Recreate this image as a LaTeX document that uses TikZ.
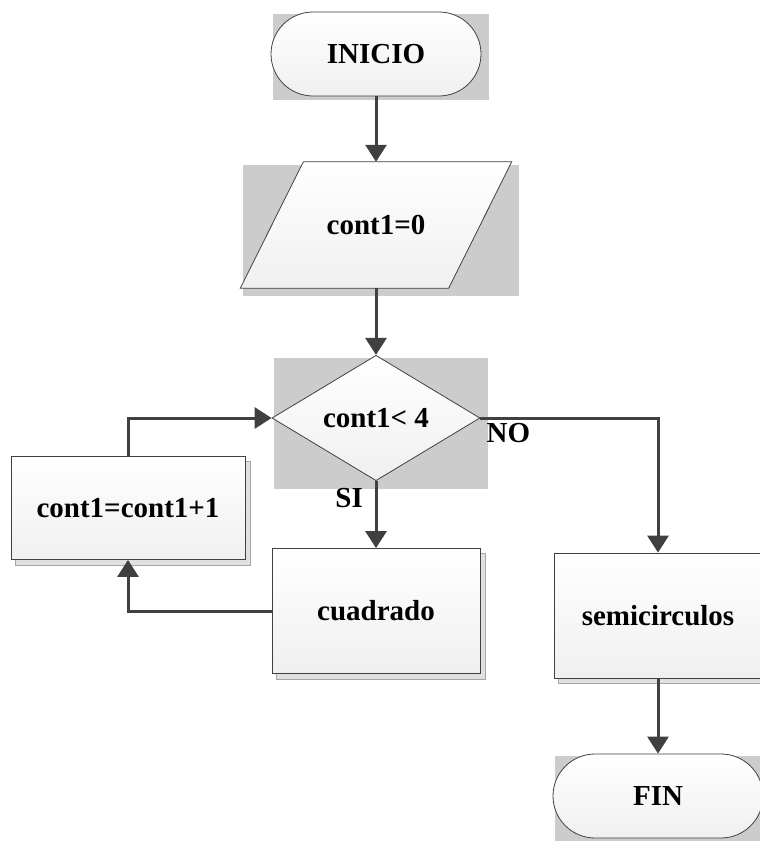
\documentclass[tikz,border=0pt]{standalone}
\usepackage{fontspec}
\setmainfont{Liberation Serif}
\usetikzlibrary{positioning,shapes.geometric,arrows.meta,backgrounds,calc}

\definecolor{edge}{HTML}{404040}
\definecolor{backdrop}{HTML}{CCCCCC}

\begin{document}
\begin{tikzpicture}[x=1pt,y=-1pt,
  every node/.style={font=\fontsize{29}{34}\selectfont\bfseries},
  shape base/.style={draw=edge,line width=0.8pt,top color=white,bottom color=black!6,inner sep=0pt},
  term/.style={shape base,rectangle,rounded corners=42pt,minimum width=210pt,minimum height=84pt},
  io/.style={rectangle,inner sep=0pt,minimum width=208pt,minimum height=126pt},
  cond/.style={shape base,diamond,minimum width=208pt,minimum height=125pt},
  proc/.style={shape base,rectangle,minimum width=208pt,minimum height=125pt},
  flow/.style={draw=edge,line width=3pt,-{Triangle[length=17pt,width=21pt]}},
  lbl/.style={inner sep=0pt}]
\useasboundingbox (0,0) rectangle (760,841);

% columns
\def\xl{128};
\def\xm{376};
\def\xr{658};

% rows
\def\ya{54};
\def\yb{225};
\def\yc{418};
\def\yd{508};
\def\ye{611};
\def\yf{615.5};
\def\yg{796};

% half of the slant of the input box
\def\sl{31.5};

\node[term] (inicio) at (\xm, \ya) {INICIO};
\node[io] (init) at (\xm, \yb) {cont1=0};
\node[cond] (test) at (\xm, \yc) {cont1< 4};
\node[proc, minimum width=234pt, minimum height=103pt] (incr) at (\xl, \yd) {cont1=cont1+1};
\node[proc] (cuad) at (\xm, \ye) {cuadrado};
\node[proc] (semi) at (\xr, \yf) {semicirculos};
\node[term] (fin) at (\xr, \yg) {FIN};

\node[lbl, below right=5pt and 6pt of test.east] {NO};
\node[lbl, below left=7pt and 13pt of test.south] {SI};

% gray backdrops, then the slanted input box
\begin{scope}[on background layer]
\foreach \n in {inicio,fin}
  \fill[backdrop] ($(\n.north west)+(2,2)$) rectangle ($(\n.south east)+(8,4)$);
\fill[backdrop] ($(init.north west)+(-\sl+3,3)$)
  rectangle ($(init.south east)+(\sl+7,8)$);
\fill[backdrop] ($(test.west |- test.north)+(2,3)$)
  rectangle ($(test.east |- test.south)+(8,8)$);
\foreach \n in {incr,cuad,semi}
  \filldraw[fill=black!12, draw=black!35, line width=0.5pt]
    ($(\n.north west)+(5,5)$) rectangle ($(\n.south east)+(5,5)$);
\path[shape base] ([xshift=\sl pt]init.north west) -- ([xshift=\sl pt]init.north east)
  -- ([xshift=-\sl pt]init.south east) -- ([xshift=-\sl pt]init.south west) -- cycle;
\end{scope}

\draw[flow] (inicio) -- (init);
\draw[flow] (init) -- (test);
\draw[flow] (test) -- (cuad);
\draw[flow] (test.east) -| (semi.north);
\draw[flow] (cuad.west) -| (incr.south);
\draw[flow] (incr.north) |- (test.west);
\draw[flow] (semi) -- (fin);
\end{tikzpicture}
\end{document}
